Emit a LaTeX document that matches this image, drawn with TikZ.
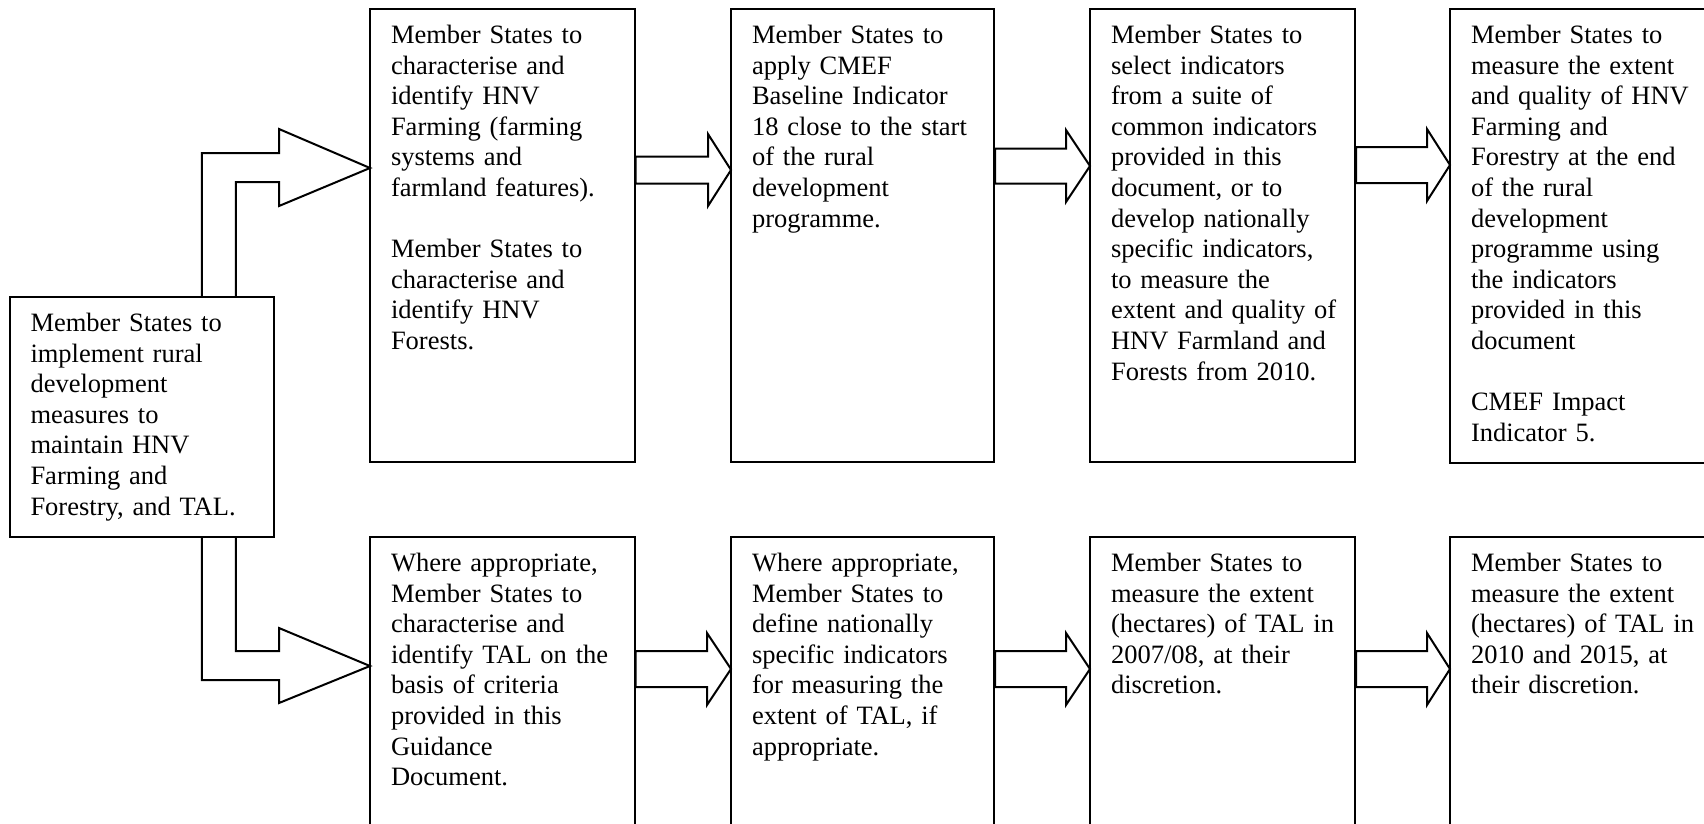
\documentclass[tikz,border=0pt]{standalone}
\usepackage{fontspec}
\setmainfont{Liberation Serif}
\usetikzlibrary{calc}

\tikzset{
  stepbox/.style={draw, line width=2pt, anchor=north west, outer sep=0pt,
    inner xsep=21pt, inner ysep=0pt, align=left, text width=222.5pt,
    text height=34.5pt, text depth=#1},
  blockline/.style={draw, line width=2pt, line join=miter},
}

% from, to, centre y, shaft half, head half, head length
\newcommand{\blockarrow}[6]{%
  \draw[blockline] ($(#1.east |- 0,#3)+(1,-#4)$) -- ($(#2.west |- 0,#3)+(-#6,-#4)$)
    -- ($(#2.west |- 0,#3)+(-#6,-#5)$) -- (#2.west |- 0,#3)
    -- ($(#2.west |- 0,#3)+(-#6,#5)$) -- ($(#2.west |- 0,#3)+(-#6,#4)$)
    -- ($(#1.east |- 0,#3)+(1,#4)$) -- cycle;}

\begin{document}
\begin{tikzpicture}[x=1pt, y=-1pt, font=\fontsize{26.5}{30.6}\selectfont]
  \useasboundingbox (0,0) rectangle (1704,823);
  \clip (0,0) rectangle (1704,823);

  % Boxes
  \node[stepbox=205.5pt] (impl) at (9.5,297) {Member States to\\ implement rural\\ development\\ measures to\\ maintain HNV\\ Farming and\\ Forestry, and TAL.};
  \node[stepbox=418.5pt] (hnv) at (370,9) {Member States to\\ characterise and\\ identify HNV\\ Farming (farming\\ systems and\\ farmland features).\\[30.6pt] Member States to\\ characterise and\\ identify HNV\\ Forests.};
  \node[stepbox=418.5pt, text width=221pt] (base) at (731,9) {Member States to\\ apply CMEF\\ Baseline Indicator\\ 18 close to the start\\ of the rural\\ development\\ programme.};
  \node[stepbox=418.5pt, text width=223pt] (sel) at (1090,9) {Member States to\\ select indicators\\ from a suite of\\ common indicators\\ provided in this\\ document, or to\\ develop nationally\\ specific indicators,\\ to measure the\\ \mbox{extent and quality of}\\ HNV Farmland and\\ Forests from 2010.};
  \node[stepbox=419.5pt, text width=258pt] (endq) at (1450,9) {Member States to\\ measure the extent\\ and quality of HNV\\ Farming and\\ Forestry at the end\\ of the rural\\ development\\ programme using\\ the indicators\\ provided in this\\ document\\[30.6pt] CMEF Impact\\ Indicator 5.};

  \node[stepbox=295.5pt] (talid) at (370,537) {Where appropriate,\\ Member States to\\ characterise and\\ identify TAL on the\\ basis of criteria\\ provided in this\\ Guidance\\ Document.};
  \node[stepbox=295.5pt, text width=221pt] (taldef) at (731,537) {Where appropriate,\\ Member States to\\ define nationally\\ specific indicators\\ for measuring the\\ extent of TAL, if\\ appropriate.};
  \node[stepbox=295.5pt, text width=223pt] (talm) at (1090,537) {Member States to\\ measure the extent\\ \mbox{(hectares) of TAL in}\\ 2007/08, at their\\ discretion.};
  \node[stepbox=295.5pt, text width=258pt] (talend) at (1450,537) {Member States to\\ measure the extent\\ (hectares) of TAL in\\ 2010 and 2015, at\\ their discretion.};

  % Elbow arrows out of the first box
  \coordinate (tipA) at (hnv.west |- 0,168);
  \coordinate (tipB) at (talid.west |- 0,666);
  \draw[blockline] ($(impl.north)+(60,0)$) |- ($(tipA)+(-91,-15)$) -- ++(0,-24) -- (tipA)
    -- ($(tipA)+(-91,38)$) -- ++(0,-24) -| ($(impl.north)+(94,0)$);
  \draw[blockline] ($(impl.south)+(60,0)$) |- ($(tipB)+(-91,14)$) -- ++(0,23) -- (tipB)
    -- ($(tipB)+(-91,-38)$) -- ++(0,23) -| ($(impl.south)+(94,0)$);

  % Arrows along the rows
  \blockarrow{hnv}{base}{170}{13.5}{36}{23}
  \blockarrow{base}{sel}{166}{17.5}{36}{24}
  \blockarrow{sel}{endq}{165}{18}{36}{23}
  \blockarrow{talid}{taldef}{669}{18}{36}{24}
  \blockarrow{taldef}{talm}{669}{18}{36}{24}
  \blockarrow{talm}{talend}{669}{18}{36}{23}
\end{tikzpicture}
\end{document}
